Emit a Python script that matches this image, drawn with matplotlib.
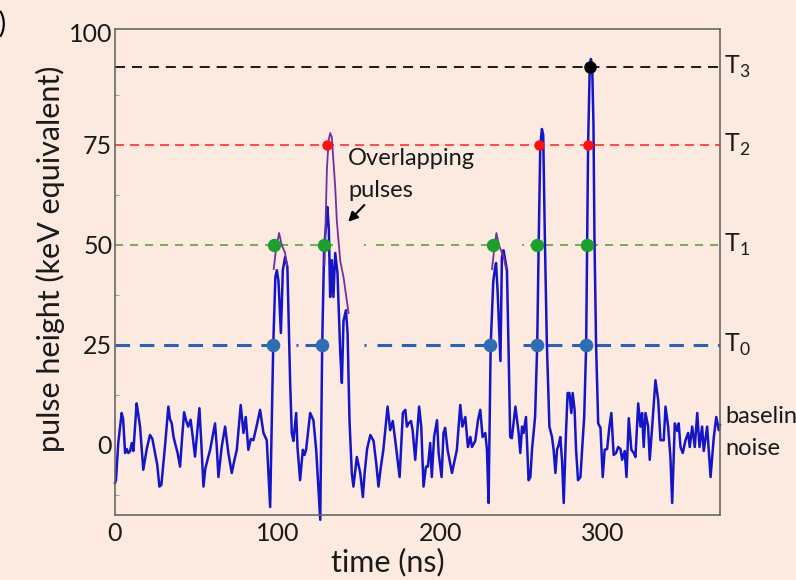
import matplotlib.pyplot as plt

plt.rcParams['font.family'] = ['Lato', 'DejaVu Sans']
plt.rcParams['mathtext.fontset'] = 'custom'
plt.rcParams['mathtext.rm'] = 'Lato'
plt.rcParams['lines.scale_dashes'] = False

# waveform: time (ns), pulse height (keV)
time_ns = [
    0.0, 0.6, 2.0, 4.1, 5.0, 6.2, 7.2, 8.2, 9.3, 10.3, 11.3, 13.3, 14.2, 15.4,
    17.4, 19.5, 21.5, 23.0, 24.6, 26.0, 27.3, 28.5, 30.8, 32.8, 33.8, 34.9,
    36.0, 36.9, 38.5, 40.0, 41.3, 42.5, 43.8, 45.0, 46.5, 47.8, 49.2, 50.5,
    51.9, 53.0, 54.4, 55.5, 57.0, 58.5, 61.5, 62.5, 63.6, 65.6, 67.7, 69.7,
    71.8, 73.3, 74.9, 77.3, 79.0, 80.4, 82.0, 83.5, 85.1, 87.0, 89.2, 91.3,
    93.3, 95.4, 97.3, 98.6, 99.5, 100.5, 102.0, 103.2, 104.6, 106.0, 107.7,
    108.7, 109.7, 111.4, 112.2, 113.8, 115.5, 116.5, 117.5, 120.0, 122.0,
    123.7, 126.2, 127.4, 128.6, 129.8, 130.6, 131.5, 132.3, 133.3, 134.3,
    135.4, 136.8, 138.5, 139.5, 140.5, 142.0, 143.0, 144.2, 145.6, 146.6,
    148.7, 150.8, 152.4, 153.5, 155.0, 157.0, 159.0, 160.6, 162.0, 163.3,
    165.0, 167.6, 169.2, 170.8, 172.3, 175.0, 177.0, 178.5, 179.5, 180.5,
    182.0, 183.0, 184.6, 187.0, 188.3, 189.7, 191.2, 192.4, 193.8, 194.8,
    196.2, 198.0, 199.0, 200.8, 202.0, 203.0, 204.5, 207.2, 210.2, 212.3,
    213.6, 215.4, 217.0, 218.5, 219.5, 221.5, 223.2, 224.6, 226.0, 227.7,
    228.7, 229.7, 231.0, 232.6, 233.6, 234.3, 235.3, 237.0, 237.9, 238.9,
    240.0, 241.0, 242.0, 243.0, 244.0, 246.2, 247.2, 248.2, 249.2, 250.3,
    251.2, 252.7, 254.3, 255.4, 256.4, 258.3, 259.6, 260.5, 261.5, 262.5,
    263.3, 264.3, 265.5, 267.1, 268.7, 269.7, 270.8, 271.8, 272.8, 273.8,
    274.9, 275.9, 277.3, 278.3, 279.4, 280.6, 281.4, 282.6, 283.5, 284.7,
    286.2, 287.2, 288.5, 289.7, 290.3, 290.9, 291.9, 292.6, 293.4, 294.2,
    294.8, 295.8, 297.1, 298.5, 299.9, 301.1, 302.6, 304.0, 305.2, 306.6,
    308.1, 309.4, 310.8, 311.8, 313.4, 314.5, 315.9, 317.5, 319.0, 320.0,
    321.7, 323.1, 324.1, 325.1, 326.2, 327.8, 328.8, 330.3, 332.3, 334.0,
    335.4, 337.4, 338.5, 340.1, 341.5, 342.6, 344.2, 345.7, 346.6, 347.7,
    349.1, 350.8, 352.4, 353.4, 354.9, 356.5, 358.0, 359.4, 361.0, 362.0,
    364.1, 366.2, 368.2, 369.7, 371.3, 372.0,
]
height_kev = [
    -9.5, -8.8, 0.5, 8.0, 6.5, -2.0, -1.0, -2.0, -1.5, 0.5, -1.5, 10.4, 8.0, 4.6,
    -6.2, -1.0, 2.5, 1.5, -2.0, -5.0, -10.4, -10.0, 0.0, 9.6, 6.5, 5.4,
    2.0, 0.5, -2.0, -5.4, 2.0, 8.2, 6.0, 4.6, 6.3, 2.0, -2.9, 3.0,
    9.2, 1.0, -10.4, -6.0, -3.5, -1.2, 5.4, 0.0, -8.0, -0.5, 4.6, -2.0,
    -7.0, -4.0, -1.2, 10.0, 3.0, 7.0, -1.2, 1.5, 1.2, 4.6, 8.8, 3.0,
    1.2, -15.5, 25.0, 42.0, 43.7, 41.0, 28.0, 43.7, 47.0, 44.5, 15.5,
    3.0, 1.0, 8.0, -0.5, -8.8, -1.2, -2.5, -1.2, 8.0, 6.2,
    -1.2, -18.7, 25.0, 49.5, 55.0, 59.5, 53.7, 37.0, 46.2, 37.0,
    48.0, 43.0, 23.0, 15.5, 31.0, 33.7, 28.0, 6.0, -7.0, -10.4,
    -3.0, -7.0, -13.0, -7.0, -1.0, 2.5, 1.0, -4.5, -10.4, -6.0,
    -1.2, 9.6, 3.7, 6.0, 1.2, -8.0, 8.0, 8.8, 4.6, 5.4,
    6.0, 3.7, -3.7, 9.6, 4.6, -10.4, -5.4, -5.4, 0.5, -8.0,
    2.0, 6.2, -2.0, -8.0, 3.0, 4.3, -1.2, -7.0, -1.2, 10.0,
    4.6, 7.0, -0.5, 2.0, -0.5, 1.0, 6.2, 8.8, 2.0, 3.0,
    -1.2, -14.5, 25.0, 41.0, 44.0, 45.5, 38.0, 21.0, 47.0, 48.7,
    46.0, 43.7, 23.7, 2.0, 1.7, 9.6, 6.2, 3.0, -2.0, 4.6,
    3.0, 7.0, -8.8, -8.0, -1.2, 7.0, 25.0, 50.0, 75.0, 79.0,
    77.5, 52.0, 26.0, 4.6, 2.0, -1.2, -7.0, -1.2, 0.0, 2.0,
    -4.0, -14.5, 3.0, 13.0, 13.0, 8.0, 13.0, 8.8, -1.2, -8.8,
    -8.0, -1.2, 7.0, 25.0, 50.0, 75.0, 94.5, 96.5, 95.0, 80.0,
    52.0, 25.0, 5.4, 4.3, -8.0, -1.2, -1.0, 4.6, 8.0, -2.5,
    -2.0, -0.5, -1.0, -3.7, -1.5, -8.0, 6.7, -1.2, -2.0, -3.0,
    10.4, 4.6, 8.0, -0.5, 8.0, 4.6, -3.7, 4.6, 16.2, 11.2,
    1.2, 1.2, 9.6, 4.6, -3.0, -14.5, 5.4, 3.5, 5.4, -0.5,
    -2.0, 1.2, 3.0, -0.5, 4.6, -0.5, 8.0, -0.5, 4.6, -1.5,
    4.6, -8.0, 2.0, 7.0, 3.7, 5.0,
]

# purple outlines over the pulse tops
env1_t = [97.6, 99.0, 100.9, 102.5, 104.6, 105.8]
env1_v = [44, 49, 53, 50, 48, 45]
env2_t = [128.8, 129.2, 130.3, 131.3, 132.3, 133.3, 135.4, 136.4, 138.5, 140.5, 143.6]
env2_v = [45, 51, 69, 76, 78, 77, 64.5, 56, 46, 42, 33]
env3_t = [231.8, 233.2, 234.5, 236.0, 237.5, 239.0, 240.5]
env3_v = [44, 49, 53, 50, 48.5, 47, 44]

# trigger thresholds and where the pulses cross them
thresholds = [25, 50, 75, 94.5]
thr_names = ["T$_0$", "T$_1$", "T$_2$", "T$_3$"]
thr_line_colors = ["#2A62B0", "#6FA550", "#FF3030", "#1A1A1A"]
thr_dot_colors = ["#2E6DB4", "#1E9E2E", "#FF1010", "#000000"]
cross_t = [
    [97.2, 127.4, 230.8, 259.5, 289.8],
    [97.8, 128.6, 232.6, 259.7, 290.3],
    [130.5, 260.6, 290.9],
    [292.0],
]

# dashed stretches of each threshold line (the original has gaps)
thr_segments = [
    [(0, 101.5), (117, 128), (161, 233.8), (251, 372)],
    [(0, 134.8), (160.6, 235), (255.4, 372)],
    [(0, 372)],
    [(0, 372)],
]
thr_dots = [[111.8, 153.8], [153.5, 251.1], [], []]

bg = "#FCEAE0"
fig = plt.figure(figsize=(7.96, 5.80), dpi=100, facecolor=bg)
ax = fig.add_axes([115 / 796, 65 / 580, 605 / 796, 486 / 580])
ax.set_facecolor(bg)

styles = [
    dict(lw=2.2, dashes=(10.5, 7)),
    dict(lw=1.3, dashes=(5.8, 5)),
    dict(lw=1.2, dashes=(6.5, 4.3)),
    dict(lw=1.4, dashes=(7.2, 5)),
]
for i, thr in enumerate(thresholds):
    for a, b in thr_segments[i]:
        ax.plot([a, b], [thr, thr], color=thr_line_colors[i], linestyle="--",
                zorder=1, **styles[i])
    for d in thr_dots[i]:
        ax.plot([d - 0.6, d + 0.6], [thr, thr], color=thr_line_colors[i],
                lw=styles[i]["lw"], solid_capstyle="butt", zorder=1)

ax.plot(time_ns, height_kev, color="#1515C8", lw=1.8, zorder=2, clip_on=False,
        solid_joinstyle="round")
for et, ev in [(env1_t, env1_v), (env2_t, env2_v), (env3_t, env3_v)]:
    ax.plot(et, ev, color="#7030A0", lw=1.3, zorder=3)

dot_sizes = [8.8, 8.6, 6.5, 8.0]
for i, thr in enumerate(thresholds):
    ax.plot(cross_t[i], [thr] * len(cross_t[i]), "o", ms=dot_sizes[i],
            color=thr_dot_colors[i], zorder=5, clip_on=False)

for i, thr in enumerate(thresholds):
    ax.text(374.5, thr, thr_names[i], fontsize=18, ha="left", va="center",
            color="#1a1a1a")

ax.text(375.5, 7.2, "baseline", fontsize=17, ha="left", va="center", color="#1a1a1a")
ax.text(375.5, -0.8, "noise", fontsize=17, ha="left", va="center", color="#1a1a1a")

ax.text(143.4, 71.7, "Overlapping", fontsize=17, ha="left", va="center", color="#1a1a1a")
ax.text(143.4, 63.7, "pulses", fontsize=17, ha="left", va="center", color="#1a1a1a")
ax.annotate("", xy=(142.2, 55.3), xytext=(154.5, 60.5),
            arrowprops=dict(arrowstyle="-|>", color="k", lw=1.5, mutation_scale=14))

fig.text(6 / 796, 1 - 24 / 580, "a)", fontsize=20, ha="right", va="center")

ax.set_xlim(0, 372)
ax.set_ylim(-17.5, 104)
ax.set_xticks([0, 100, 200, 300])
# the "100" label sits at the top edge of the frame in the original
ax.set_yticks([0, 25, 50, 75, 103])
ax.set_yticklabels(["0", "25", "50", "75", "100"])
ax.set_yticks([-12.5, 12.5, 37.5, 62.5, 87.5], minor=True)
ax.tick_params(axis="both", which="major", length=0, labelsize=18,
               labelcolor="#1a1a1a")
ax.tick_params(axis="x", pad=5)
ax.tick_params(axis="y", pad=2)
ax.tick_params(axis="y", which="minor", direction="in", length=3, color="#888888")

for s in ax.spines.values():
    s.set_color("#666666")
    s.set_linewidth(1.2)

ax.set_xlabel("time (ns)", fontsize=22, color="#1a1a1a")
ax.xaxis.set_label_coords((388 - 115) / 605, -0.068)
ax.set_ylabel("pulse height (keV equivalent)", fontsize=22, color="#1a1a1a")
ax.yaxis.set_label_coords(-0.083, 0.527)

fig.savefig("out.png", dpi=100, facecolor=bg)
